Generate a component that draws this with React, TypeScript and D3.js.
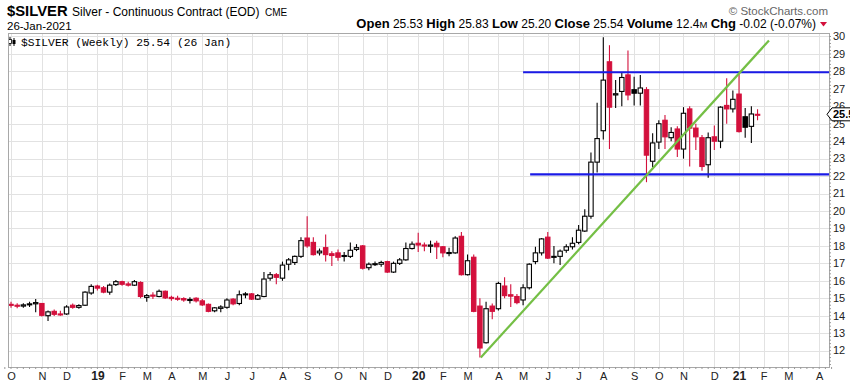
import React from 'react';
import * as d3 from 'd3';

// Weekly candles, first week = Monday 1 Oct 2018
const firstWeek = new Date(2018, 9, 1);
const opens = [
  14.65, 14.60, 14.55, 14.62, 14.68, 14.70, 14.00, 14.25, 14.10, 14.10, 14.60, 14.48, 14.60, 15.30,
  15.70, 15.60, 15.35, 15.78, 15.95, 15.82, 15.75, 15.90, 15.05, 15.18, 15.10, 15.40, 15.05, 15.00,
  14.98, 14.88, 15.00, 14.85, 14.65, 14.28, 14.42, 14.48, 14.95, 14.70, 15.20, 15.25, 14.95, 15.10,
  16.15, 16.35, 16.15, 16.95, 17.05, 17.40, 18.45, 18.20, 17.60, 17.90, 17.55, 17.60, 17.40, 17.40,
  17.80, 18.00, 16.75, 16.95, 16.95, 17.10, 16.50, 17.00, 17.20, 17.85, 18.15, 18.05, 17.98, 18.15,
  17.95, 17.58, 17.60, 18.55, 16.35, 17.35, 14.55, 12.45, 14.55, 14.40, 15.70, 15.20, 15.10, 14.90,
  15.60, 17.10, 17.60, 18.50, 17.35, 17.40, 17.75, 17.95, 18.20, 18.85, 19.70, 22.80, 24.60, 28.55,
  26.65, 26.85, 27.80, 26.95, 26.75, 26.95, 22.85, 23.95, 25.20, 24.20, 24.70, 23.55, 25.85, 24.75,
  24.20, 22.65, 24.25, 24.00, 26.05, 25.85, 26.70, 25.40, 24.85, 25.53,
];
const highs = [
  14.80, 14.72, 14.72, 14.80, 14.95, 14.72, 14.30, 14.35, 14.28, 14.60, 14.70, 14.65, 15.40, 15.80,
  15.78, 15.70, 15.85, 16.05, 16.00, 15.95, 16.05, 15.98, 15.25, 15.35, 15.50, 15.45, 15.15, 15.15,
  15.05, 15.05, 15.05, 14.95, 14.70, 14.50, 14.60, 15.00, 15.00, 15.45, 15.35, 15.30, 15.25, 16.50,
  16.50, 16.45, 17.10, 17.30, 17.45, 18.50, 19.70, 18.50, 17.85, 18.65, 17.70, 17.80, 17.65, 18.20,
  18.10, 18.05, 17.05, 17.10, 17.15, 17.15, 17.10, 17.30, 18.20, 18.25, 18.75, 18.20, 18.30, 18.30,
  18.00, 17.90, 18.55, 18.80, 17.50, 17.50, 15.00, 14.80, 14.70, 15.95, 16.20, 15.80, 15.25, 15.80,
  17.00, 17.95, 18.45, 18.80, 18.00, 17.80, 18.10, 18.50, 19.20, 20.10, 23.35, 26.20, 29.95, 29.50,
  27.50, 27.95, 29.20, 27.70, 27.80, 27.10, 24.45, 25.20, 25.50, 24.80, 24.85, 25.95, 26.00, 25.00,
  24.35, 24.50, 24.90, 26.00, 27.60, 26.90, 27.90, 25.90, 26.00, 25.83,
];
const lows = [
  14.45, 14.42, 14.45, 14.50, 14.20, 13.95, 13.70, 13.98, 14.00, 14.05, 14.40, 14.40, 14.55, 15.20,
  15.45, 15.28, 15.20, 15.70, 15.72, 15.68, 15.70, 15.00, 14.80, 14.95, 15.05, 14.95, 14.85, 14.85,
  14.80, 14.70, 14.75, 14.55, 14.20, 14.20, 14.20, 14.40, 14.60, 14.60, 15.00, 14.90, 14.90, 15.05,
  16.00, 15.80, 16.00, 16.60, 16.90, 17.30, 17.90, 17.45, 17.45, 17.10, 16.85, 17.15, 17.10, 17.30,
  17.70, 16.65, 16.60, 16.85, 16.80, 16.45, 16.45, 16.90, 17.15, 17.80, 17.65, 17.70, 17.60, 17.25,
  17.35, 17.40, 17.55, 16.30, 16.30, 14.20, 11.60, 12.40, 13.80, 14.30, 15.00, 14.50, 14.65, 14.60,
  15.50, 16.95, 17.45, 17.25, 17.00, 16.90, 17.60, 17.80, 18.10, 18.80, 19.55, 22.20, 24.10, 23.55,
  25.90, 26.00, 26.35, 26.05, 26.05, 21.65, 22.50, 23.55, 23.55, 24.00, 23.10, 23.00, 22.55, 23.50,
  22.30, 21.90, 23.50, 23.60, 25.00, 25.65, 24.50, 24.20, 23.90, 25.20,
];
const closes = [
  14.60, 14.55, 14.62, 14.68, 14.75, 14.02, 14.22, 14.08, 14.05, 14.50, 14.48, 14.58, 15.35, 15.68,
  15.58, 15.35, 15.75, 15.95, 15.80, 15.75, 15.95, 15.10, 15.15, 15.12, 15.40, 15.02, 14.98, 14.95,
  14.90, 14.93, 14.85, 14.62, 14.25, 14.45, 14.50, 14.90, 14.68, 15.20, 15.25, 14.95, 15.15, 16.10,
  16.35, 16.20, 16.90, 17.20, 17.40, 18.30, 18.00, 17.50, 17.70, 17.50, 17.45, 17.35, 17.45, 17.75,
  17.90, 16.72, 16.95, 16.98, 17.05, 16.50, 17.00, 17.20, 17.85, 18.10, 18.05, 18.00, 18.05, 17.95,
  17.60, 17.62, 18.45, 16.35, 17.15, 14.25, 12.15, 14.40, 14.25, 15.85, 15.15, 15.12, 14.75, 15.60,
  16.95, 17.60, 18.40, 17.30, 17.40, 17.70, 17.95, 18.15, 18.90, 19.70, 22.80, 24.15, 27.50, 25.95,
  26.72, 27.65, 26.65, 26.75, 27.05, 23.20, 23.90, 25.00, 24.25, 24.50, 23.55, 25.60, 24.75, 24.25,
  22.55, 24.20, 24.00, 25.95, 25.85, 26.40, 24.55, 24.80, 25.56, 25.54,
];

const priceTicks = [12, 13, 14, 15, 16, 17, 18, 19, 20, 21, 22, 23, 24, 25, 26, 27, 28, 29, 30];
const monthLabels = ['O', 'N', 'D', '19', 'F', 'M', 'A', 'M', 'J', 'J', 'A', 'S', 'O', 'N', 'D', '20',
  'F', 'M', 'A', 'M', 'J', 'J', 'A', 'S', 'O', 'N', 'D', '21', 'F', 'M', 'A'];

const resistanceLevel = 27.95;
const resistanceFrom = new Date(2020, 4, 4);
const supportLevel = 22.1;
const supportFrom = new Date(2020, 4, 12);
const trendFrom = { date: new Date(2020, 2, 17), price: 11.6 };
const trendTo = { date: new Date(2021, 1, 7), price: 29.77 };

const lastPrice = 25.54;

const W = 850, H = 384;
const L = 8, R = 829, T = 33, B = 367;

const RED = '#d3103c';
const BLK = '#000000';

export default function App() {
  const x = d3.scaleTime()
    .domain([new Date(2018, 8, 27, 14), new Date(2021, 3, 16, 2)])
    .range([L, R]);
  const y = d3.scaleLinear().domain([11.06, 30.2]).range([B, T]);

  const candles = opens.map((o, i) => {
    const date = d3.timeWeek.offset(firstWeek, i);
    const c = closes[i];
    const prev = i === 0 ? o : closes[i - 1];
    return { date, o, h: highs[i], l: lows[i], c, color: c < prev ? RED : BLK, hollow: c >= o };
  });

  const months = d3.timeMonth.range(new Date(2018, 9, 1), new Date(2021, 4, 1));
  const monthTicks = months.map((m, i) => ({ date: d3.timeMonday.ceil(m), label: monthLabels[i] }));

  const weekTicks = d3.timeMonday.range(new Date(2018, 8, 24), new Date(2021, 3, 20));
  const minorY = d3.range(11.2, 30.2, 0.2);

  const bw = 4.4;
  const font = 'Liberation Sans, Arial, sans-serif';
  const lab = 13;

  return (
    <svg width={W} height={H} style={{ position: 'absolute', left: 0, top: 0, background: '#fff' }}
      fontFamily={font}>
      <defs>
        <clipPath id="plot"><rect x={L} y={T} width={R - L} height={B - T} /></clipPath>
      </defs>
      {/* header */}
      <text x={7} y={16} fontSize={14.8} fontWeight="bold">$SILVER</text>
      <text x={72} y={15.5} fontSize={12}>Silver - Continuous Contract (EOD)</text>
      <text x={265} y={15.5} fontSize={10}>CME</text>
      <text x={7} y={30} fontSize={11.5}>26-Jan-2021</text>
      <text x={828} y={15} fontSize={11.5} fill="#666" textAnchor="end">© StockCharts.com</text>
      <text x={816} y={27.5} fontSize={12} textAnchor="end">
        <tspan fontWeight="bold" fontSize={lab}>Open</tspan> 25.53 {' '}
        <tspan fontWeight="bold" fontSize={lab}>High</tspan> 25.83 {' '}
        <tspan fontWeight="bold" fontSize={lab}>Low</tspan> 25.20 {' '}
        <tspan fontWeight="bold" fontSize={lab}>Close</tspan> 25.54 {' '}
        <tspan fontWeight="bold" fontSize={lab}>Volume</tspan> 12.4<tspan fontSize={9.5}>M</tspan> {' '}
        <tspan fontWeight="bold" fontSize={lab}>Chg</tspan> -0.02 (-0.07%)
      </text>
      <path d="M820,22 L827,22 L823.5,26.5 Z" fill={RED} />

      {/* grid */}
      <g stroke="#e2e2e2" strokeWidth={1}>
        {priceTicks.map(p => (
          <line key={'h' + p} x1={L} x2={R} y1={Math.round(y(p)) + 0.5} y2={Math.round(y(p)) + 0.5} />
        ))}
        {monthTicks.map((m, i) => (
          <line key={'v' + i} x1={Math.round(x(m.date)) + 0.5} x2={Math.round(x(m.date)) + 0.5} y1={T} y2={B} />
        ))}
      </g>

      {/* legend */}
      <g>
        <line x1={10} x2={10} y1={37} y2={46} stroke={BLK} />
        <rect x={8.5} y={39.5} width={3} height={4} fill="#fff" stroke={BLK} strokeWidth={0.8} />
        <line x1={14} x2={14} y1={38} y2={46} stroke={BLK} />
        <rect x={12.5} y={40} width={3} height={4} fill={BLK} />
        <text x={21} y={46} fontSize={11.3} fontFamily="Liberation Mono, DejaVu Sans Mono, monospace">$SILVER (Weekly) 25.54 (26 Jan)</text>
      </g>

      {/* candles */}
      <g clipPath="url(#plot)">
        {candles.map((d, i) => {
          const cx = x(d.date);
          const top = y(Math.max(d.o, d.c));
          const bot = y(Math.min(d.o, d.c));
          const h = Math.max(1, bot - top);
          return (
            <g key={i}>
              <line x1={cx} x2={cx} y1={y(d.h)} y2={y(d.l)} stroke={d.color} strokeWidth={1.1} />
              <rect x={cx - bw / 2} y={top} width={bw} height={h}
                fill={d.hollow ? '#fff' : d.color} stroke={d.color} strokeWidth={1.1} />
            </g>
          );
        })}
        <line x1={x(resistanceFrom)} x2={R} y1={y(resistanceLevel)} y2={y(resistanceLevel)} stroke="#1a1ae6" strokeWidth={2.2} />
        <line x1={x(supportFrom)} x2={R} y1={y(supportLevel)} y2={y(supportLevel)} stroke="#1a1ae6" strokeWidth={2.2} />
        <line x1={x(trendFrom.date)} y1={y(trendFrom.price)} x2={x(trendTo.date)} y2={y(trendTo.price)}
          stroke="#74bf45" strokeWidth={2.2} />
      </g>

      {/* frame */}
      <rect x={L + 0.5} y={T + 0.5} width={R - L} height={B - T} fill="none" stroke="#a8a8a8" />
      <g stroke="#999">
        {minorY.map((p, i) => (
          <line key={'my' + i} x1={R} x2={R + 2} y1={y(p)} y2={y(p)} />
        ))}
        {weekTicks.map((d, i) => (
          <line key={'mx' + i} x1={x(d)} x2={x(d)} y1={B} y2={B + 2} />
        ))}
      </g>

      {/* y axis labels */}
      {priceTicks.map(p => (
        <text key={'yl' + p} x={833} y={y(p)} dy="0.35em" fontSize={11} fill="#222">{p}</text>
      ))}
      {/* last price tag */}
      <g>
        <path d={`M${R - 2},${y(lastPrice)} L${R + 3},${y(lastPrice) - 6.5} L${W + 2},${y(lastPrice) - 6.5} L${W + 2},${y(lastPrice) + 6.5} L${R + 3},${y(lastPrice) + 6.5} Z`}
          fill="#fff" stroke="#000" strokeWidth={1} />
        <text x={833} y={y(lastPrice)} dy="0.36em" fontSize={11} fontWeight="bold">{lastPrice.toFixed(2)}</text>
      </g>

      {/* x axis labels */}
      {monthTicks.map((m, i) => {
        const yr = /\d/.test(m.label);
        return (
          <text key={'xl' + i} x={x(m.date) + 0.5} y={380} textAnchor="middle"
            fontSize={yr ? 12 : 11} fontWeight={yr ? 'bold' : 'normal'} fill="#222">{m.label}</text>
        );
      })}
    </svg>
  );
}
